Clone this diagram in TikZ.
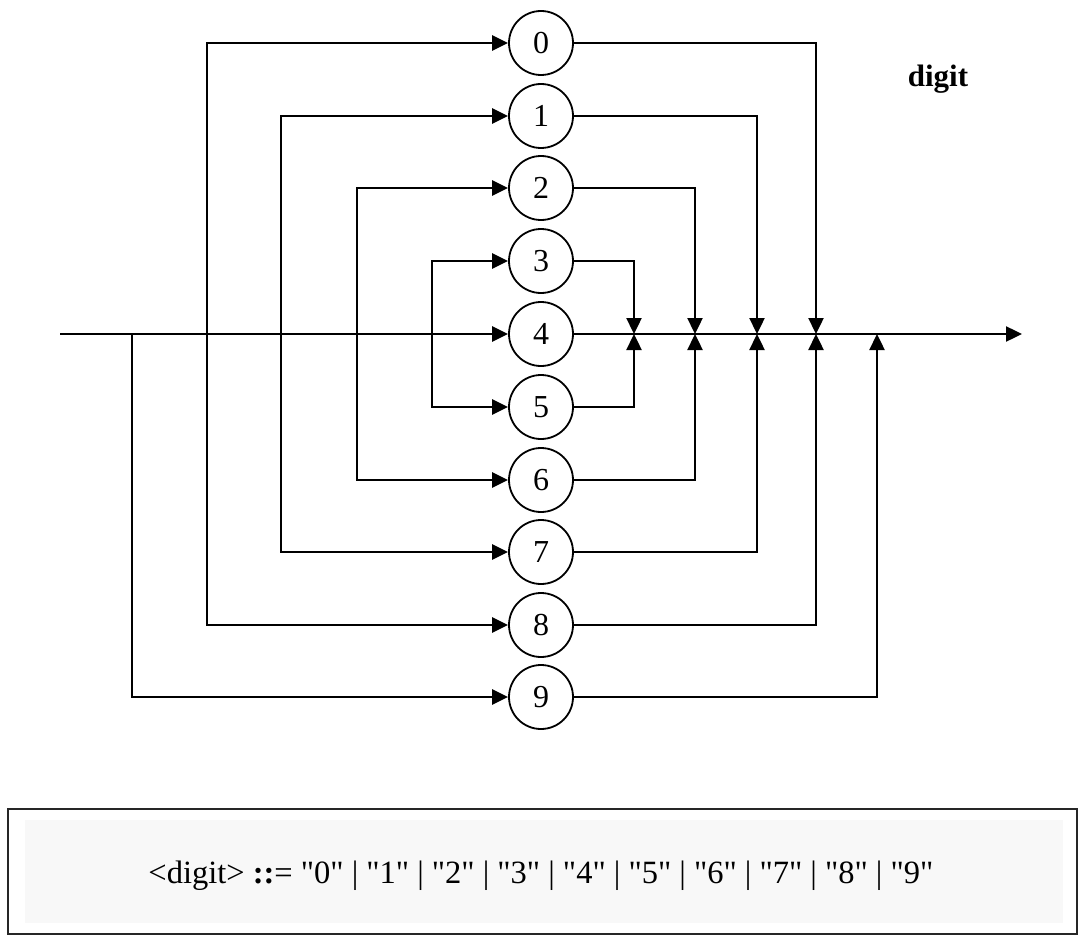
\documentclass[tikz,border=0pt]{standalone}
\usepackage{fontspec}
\setmainfont{Liberation Serif}[Ligatures=TeXOff]
\usetikzlibrary{arrows.meta}
\definecolor{bnfbg}{HTML}{F8F8F8}
\begin{document}
\begin{tikzpicture}[x=1pt,y=-1pt,
  flow/.style={line width=2.4pt, line join=miter, -{Triangle[length=16pt,width=15pt]}},
  digitnode/.style={circle, draw, line width=1.8pt, minimum size=64pt, inner sep=0pt, font=\fontsize{32}{32}\selectfont},
  txt/.style={font=\fontsize{32}{32}\selectfont, anchor=base, inner sep=0pt}]
\useasboundingbox (0,0) rectangle (1078,936);
% digit circles
\foreach \d/\y in {0/43,1/116,2/188,3/261,4/334,5/407,6/480,7/552,8/625,9/697}
  \node[digitnode] (c\d) at (541,\y) {\d};
% junction coordinates on the main line
\coordinate (in) at (60,334);
\coordinate (out) at (1022,334);
\coordinate (s9) at (132,334);
\coordinate (s08) at (207,334);
\coordinate (s17) at (281,334);
\coordinate (s26) at (357,334);
\coordinate (s35) at (432,334);
\coordinate (m35) at (634,334);
\coordinate (m26) at (695,334);
\coordinate (m17) at (757,334);
\coordinate (m08) at (816,334);
\coordinate (m9) at (877,334);
% main line
\draw[flow] (in) -- (c4);
\draw[flow] (c4) -- (out);
% left branches
\draw[flow] (s35) |- (c3);
\draw[flow] (s35) |- (c5);
\draw[flow] (s26) |- (c2);
\draw[flow] (s26) |- (c6);
\draw[flow] (s17) |- (c1);
\draw[flow] (s17) |- (c7);
\draw[flow] (s08) |- (c0);
\draw[flow] (s08) |- (c8);
\draw[flow] (s9) |- (c9);
% right branches
\draw[flow] (c3) -| (m35);
\draw[flow] (c5) -| (m35);
\draw[flow] (c2) -| (m26);
\draw[flow] (c6) -| (m26);
\draw[flow] (c1) -| (m17);
\draw[flow] (c7) -| (m17);
\draw[flow] (c0) -| (m08);
\draw[flow] (c8) -| (m08);
\draw[flow] (c9) -| (m9);
% title
\node[txt, font=\bfseries\fontsize{31}{31}\selectfont] (title) at (938,87) {digit};
% BNF box
\draw[line width=2.4pt, draw=black!85] (8,809) rectangle (1077,934);
\fill[bnfbg] (25,820) rectangle (1063,923);
\node[txt, font=\fontsize{32.5}{32.5}\selectfont] (bnf) at (541,883) {<digit> \textbf{::}= "0" | "1" | "2" | "3" | "4" | "5" | "6" | "7" | "8" | "9"};
\end{tikzpicture}
\end{document}
